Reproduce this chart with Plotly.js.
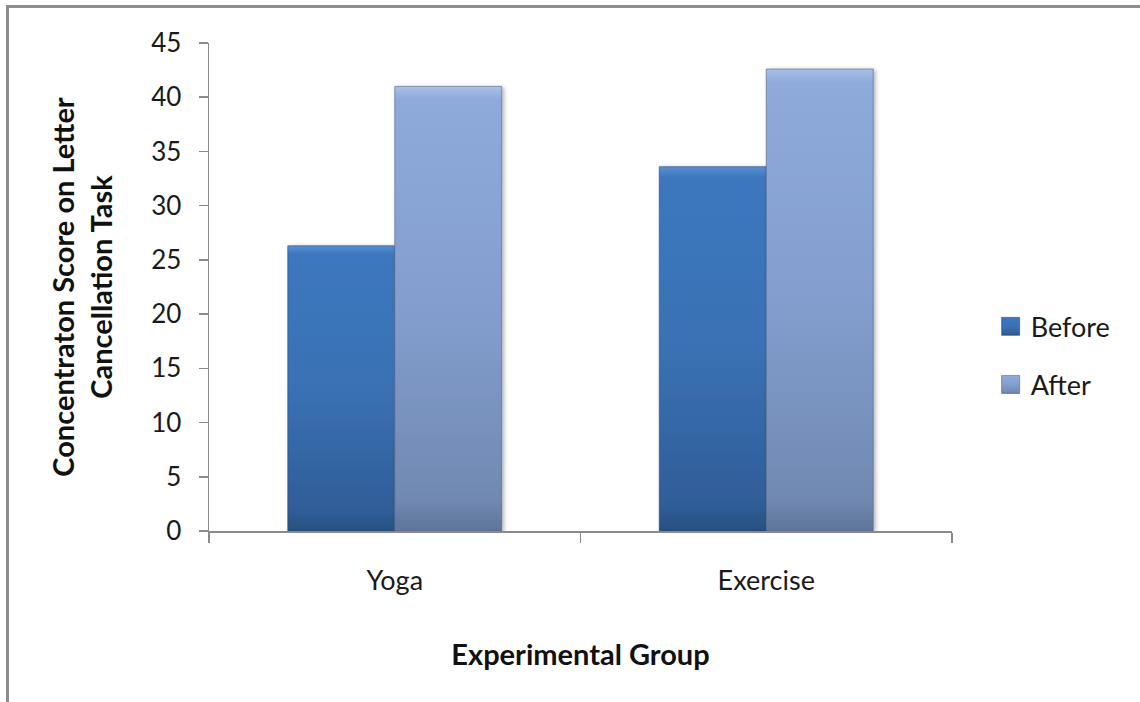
<!DOCTYPE html>
<html>
<head>
<meta charset="utf-8">
<script src="https://cdn.plot.ly/plotly-3.0.1.min.js"></script>
<style>
  html, body { margin: 0; padding: 0; background: #ffffff; }
  #wrap { position: relative; width: 1140px; height: 702px; overflow: hidden; }
  #chart { position: absolute; left: 0; top: 0; width: 1140px; height: 702px; }
  #frame {
    position: absolute; left: 6px; top: 5px; width: 1200px; height: 800px;
    border-top: 3px solid #8c8c8c; border-left: 3px solid #8c8c8c;
    pointer-events: none;
  }
</style>
</head>
<body>
<div id="wrap">
  <div id="chart"></div>
  <div id="frame"></div>
</div>
<script>
// Experimental groups and concentration scores
const groups = ['Yoga', 'Exercise'];
const seriesNames = ['Before', 'After'];
const beforeScores = [26.3, 33.6];
const afterScores = [41.0, 42.6];
const yTicks = [0, 5, 10, 15, 20, 25, 30, 35, 40, 45];

const FONT = 'Lato, "Open Sans", sans-serif';
const axisGrey = '#8a8a8a';

const data = [
  {
    type: 'bar', name: seriesNames[0], x: groups, y: beforeScores,
    legendgroup: 'b',
    marker: { color: '#3a70b3', line: { color: 'rgba(36,66,110,0.55)', width: 1 } },
    hoverinfo: 'skip'
  },
  {
    type: 'bar', name: seriesNames[1], x: groups, y: afterScores,
    legendgroup: 'a',
    marker: { color: '#839ecd', line: { color: 'rgba(80,98,135,0.6)', width: 1 } },
    hoverinfo: 'skip'
  }
];

const layout = {
  width: 1140, height: 702,
  paper_bgcolor: '#ffffff', plot_bgcolor: '#ffffff',
  margin: { l: 209, r: 188, t: 43, b: 171, pad: 0 },
  font: { family: FONT, color: '#1a1a1a', size: 26 },
  barmode: 'group', bargap: 0.424, bargroupgap: 0,
  showlegend: true,
  legend: {
    x: 1.052, xanchor: 'left', y: 0.359, yanchor: 'middle',
    font: { family: FONT, size: 27, color: '#1a1a1a' },
    tracegroupgap: 20, traceorder: 'grouped',
    bgcolor: 'rgba(0,0,0,0)', borderwidth: 0
  },
  xaxis: {
    type: 'category', showline: true, linecolor: axisGrey, linewidth: 1.5,
    showgrid: false, zeroline: false,
    ticks: 'outside', tickson: 'boundaries', ticklen: 10, tickcolor: axisGrey, tickwidth: 1.5,
    ticklabelstandoff: 25,
    tickfont: { family: FONT, size: 27, color: '#1a1a1a' },
    title: { text: 'Experimental Group', font: { family: FONT, size: 29, color: '#111', weight: 'bold' }, standoff: 50 },
    automargin: false
  },
  yaxis: {
    range: [0, 45], tickvals: yTicks, ticktext: yTicks.map(String),
    showline: true, linecolor: axisGrey, linewidth: 1.5,
    showgrid: false, zeroline: false,
    ticks: 'outside', ticklen: 9, tickcolor: axisGrey, tickwidth: 1.5,
    ticklabelstandoff: 12,
    tickfont: { family: FONT, size: 26, color: '#1a1a1a' },
    title: { text: 'Concentraton Score on Letter<br>Cancellation Task', font: { family: FONT, size: 29, color: '#111', weight: 'bold' }, standoff: 30 },
    automargin: false
  }
};

Plotly.newPlot('chart', data, layout, { staticPlot: true, displayModeBar: false }).then(function (gd) {
  // Vertical shading and soft shadow for the bars and legend swatches
  const NS = 'http://www.w3.org/2000/svg';
  const svg = gd.querySelector('svg.main-svg');
  let defs = svg.querySelector('defs');
  if (!defs) { defs = document.createElementNS(NS, 'defs'); svg.insertBefore(defs, svg.firstChild); }

  function grad(id, stops) {
    const g = document.createElementNS(NS, 'linearGradient');
    g.setAttribute('id', id);
    g.setAttribute('x1', '0'); g.setAttribute('y1', '0');
    g.setAttribute('x2', '0'); g.setAttribute('y2', '1');
    stops.forEach(function (s) {
      const st = document.createElementNS(NS, 'stop');
      st.setAttribute('offset', s[0]);
      st.setAttribute('stop-color', s[1]);
      g.appendChild(st);
    });
    defs.appendChild(g);
  }
  grad('shadeBefore', [['0', '#5a8fd2'], ['0.03', '#3c77be'], ['0.5', '#3a71b4'], ['0.93', '#2f5d98'], ['1', '#27507f']]);
  grad('shadeAfter', [['0', '#a9c1e8'], ['0.03', '#8eaadb'], ['0.5', '#839ece'], ['0.93', '#7189b2'], ['1', '#5f7499']]);

  const f = document.createElementNS(NS, 'filter');
  f.setAttribute('id', 'barShadow');
  f.setAttribute('x', '-10%'); f.setAttribute('y', '-5%');
  f.setAttribute('width', '130%'); f.setAttribute('height', '115%');
  const ds = document.createElementNS(NS, 'feDropShadow');
  ds.setAttribute('dx', '2'); ds.setAttribute('dy', '1');
  ds.setAttribute('stdDeviation', '2'); ds.setAttribute('flood-color', '#000');
  ds.setAttribute('flood-opacity', '0.3');
  f.appendChild(ds);
  defs.appendChild(f);

  const ids = ['shadeBefore', 'shadeAfter'];
  gd.querySelectorAll('.barlayer .trace').forEach(function (tr, i) {
    tr.querySelectorAll('path').forEach(function (p) {
      p.style.fill = 'url(#' + ids[i] + ')';
      p.setAttribute('filter', 'url(#barShadow)');
    });
  });
  // Larger square swatches in the legend
  gd.querySelectorAll('.legend .traces').forEach(function (tr, i) {
    tr.querySelectorAll('.legendpoints path').forEach(function (p) {
      p.setAttribute('d', 'M9,9H-9V-9H9Z');
      p.style.fill = 'url(#' + ids[i] + ')';
    });
  });
});
</script>
</body>
</html>
